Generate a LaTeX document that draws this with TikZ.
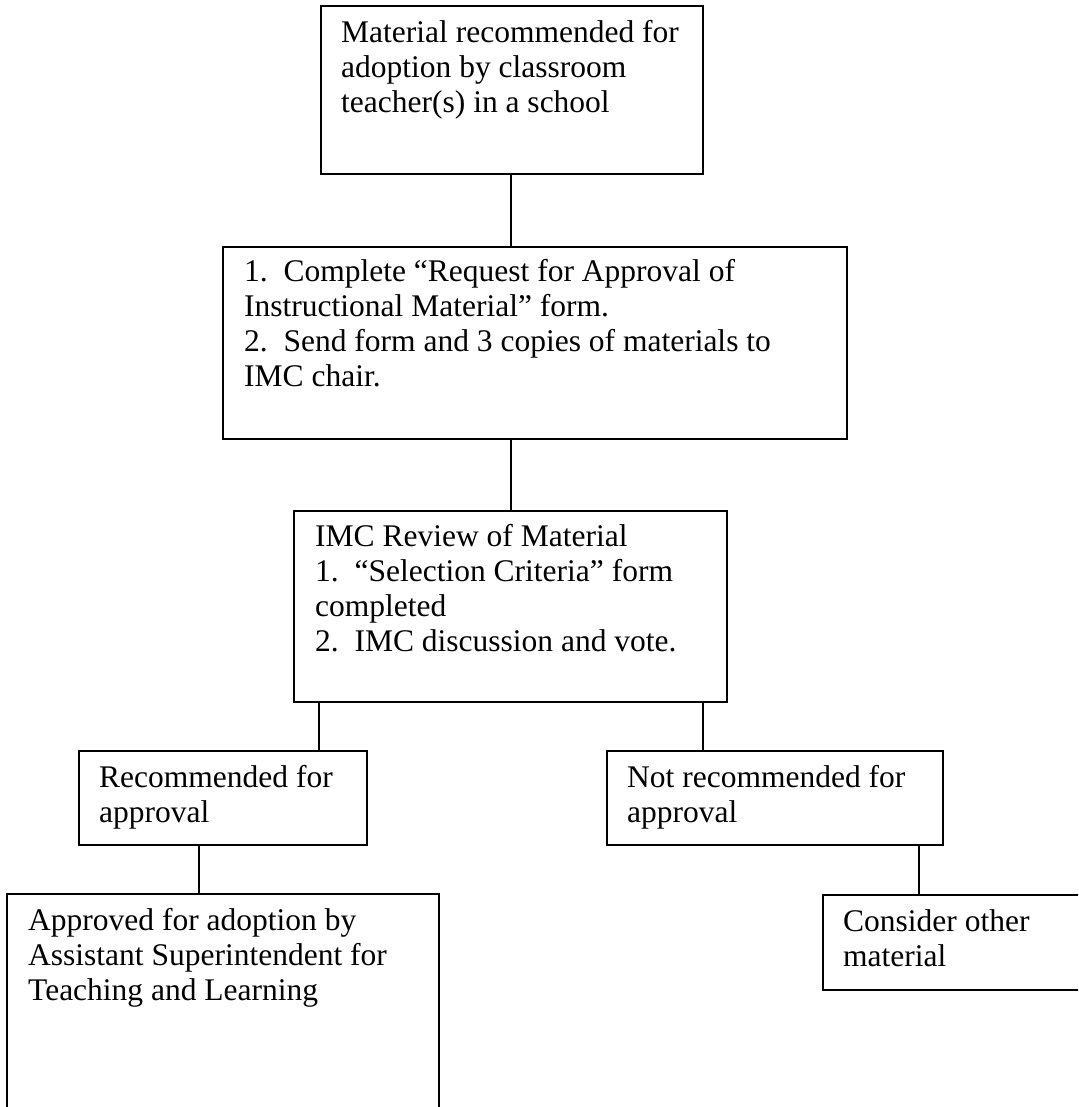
\documentclass[tikz,border=0pt]{standalone}
\usepackage{fontspec}
\setmainfont{Liberation Serif}
\usetikzlibrary{calc}
\tikzset{
  flowbox/.style={draw=black, line width=1.6pt, rectangle, inner sep=0pt, outer sep=0pt, anchor=north west},
  boxtext/.style={anchor=north west, inner sep=0pt, align=left, font=\fontsize{31.5}{35}\selectfont},
  conn/.style={draw=black, line width=1.6pt}
}
\begin{document}
\begin{tikzpicture}[x=1pt, y=-1pt]
\useasboundingbox (0,0) rectangle (1078,1107);
\clip (0,0) rectangle (1078,1107);
% boxes
\node[flowbox, minimum width=382pt, minimum height=168pt] (b1) at (321,6) {};
\node[flowbox, minimum width=624pt, minimum height=192pt] (b2) at (223,247) {};
\node[flowbox, minimum width=433pt, minimum height=191pt] (b3) at (294,511) {};
\node[flowbox, minimum width=288pt, minimum height=94pt] (b4) at (79,751) {};
\node[flowbox, minimum width=336pt, minimum height=94pt] (b5) at (607,751) {};
\node[flowbox, minimum width=432pt, minimum height=240pt] (b6) at (7,894) {};
\node[flowbox, minimum width=280pt, minimum height=95pt] (b7) at (823,895) {};
% texts
\node[boxtext] (t1) at ($(b1.north west)+(20,12)$) {\strut Material recommended for\\adoption by classroom\\teacher(s) in a school};
\node[boxtext] (t2) at ($(b2.north west)+(21,10)$) {\strut 1.\ \ Complete “Request for Approval of\\Instructional Material” form.\\2.\ \ Send form and 3 copies of materials to\\IMC chair.};
\node[boxtext] (t3) at ($(b3.north west)+(21,11)$) {\strut IMC Review of Material\\1.\ \ “Selection Criteria” form\\completed\\2.\ \ IMC discussion and vote.};
\node[boxtext] (t4) at ($(b4.north west)+(20,12)$) {\strut Recommended for\\approval};
\node[boxtext] (t5) at ($(b5.north west)+(20,12)$) {\strut Not recommended for\\approval};
\node[boxtext] (t6) at ($(b6.north west)+(21,12)$) {\strut Approved for adoption by\\Assistant Superintendent for\\Teaching and Learning};
\node[boxtext] (t7) at ($(b7.north west)+(20,12)$) {\strut Consider other\\material};
% connectors
\coordinate (c1) at ($(b1.south west)+(190,0)$);
\draw[conn] (c1) -- (c1 |- b2.north);
\coordinate (c2) at ($(b2.south west)+(288,0)$);
\draw[conn] (c2) -- (c2 |- b3.north);
\coordinate (c3) at ($(b3.south west)+(25,0)$);
\draw[conn] (c3) -- (c3 |- b4.north);
\coordinate (c4) at ($(b3.south east)+(-24,0)$);
\draw[conn] (c4) -- (c4 |- b5.north);
\coordinate (c5) at ($(b4.south west)+(120,0)$);
\draw[conn] (c5) -- (c5 |- b6.north);
\coordinate (c6) at ($(b5.south east)+(-24,0)$);
\draw[conn] (c6) -- (c6 |- b7.north);
\end{tikzpicture}
\end{document}
